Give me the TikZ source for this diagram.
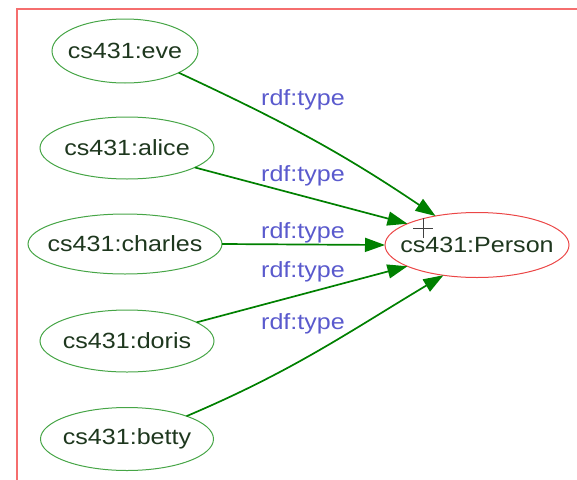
\documentclass[tikz,border=0pt]{standalone}
\usepackage{fontspec}
\setmainfont[FakeStretch=1.14]{Liberation Sans}
\usetikzlibrary{arrows.meta,shapes.geometric}
\definecolor{edgegreen}{RGB}{0,128,0}
\definecolor{nodegreen}{RGB}{70,165,70}
\definecolor{nodered}{RGB}{235,70,70}
\definecolor{framered}{RGB}{245,110,110}
\definecolor{txt}{RGB}{30,55,30}
\definecolor{lbl}{RGB}{90,90,205}
\newcommand{\centred}[1]{\makebox[0pt][c]{#1}}
\tikzset{
  res/.style={ellipse, draw=nodegreen, line width=1pt, text=txt,
    font=\fontsize{22}{24}\selectfont, inner sep=0pt, outer sep=0pt},
  cls/.style={res, draw=nodered},
  rel/.style={draw=edgegreen, line width=1.7pt,
    -{Triangle[length=20pt,width=14pt]}},
  lab/.style={text=lbl, font=\fontsize{22}{24}\selectfont, inner sep=0pt}
}
\begin{document}
\begin{tikzpicture}[x=1pt,y=-1pt]
  \useasboundingbox (0,0) rectangle (577,479);
  \begin{scope}
    \clip (0,0) rectangle (577,479);
    \draw[framered, line width=1.3pt] (17,9) rectangle (620,520);
  \end{scope}

  % subjects
  \node[res, minimum width=146pt, minimum height=64pt] (eve)     at (125,51)  {\centred{cs431:eve}};
  \node[res, minimum width=174pt, minimum height=62pt] (alice)   at (127,148) {\centred{cs431:alice}};
  \node[res, minimum width=194pt, minimum height=60pt] (charles) at (125,244) {\centred{cs431:charles}};
  \node[res, minimum width=174pt, minimum height=62pt] (doris)   at (127,341) {\centred{cs431:doris}};
  \node[res, minimum width=173pt, minimum height=63pt] (betty)   at (127,439) {\centred{cs431:betty}};
  % class
  \node[cls, minimum width=184pt, minimum height=65pt] (person)  at (477,245) {\centred{cs431:Person}};

  % rdf:type edges
  \draw[rel] (eve.-22)     to[out=-25, in=146] (person.145);
  \draw[rel] (alice.-16)   -- (person.163);
  \draw[rel] (charles.-0.6) -- (person.180);
  \draw[rel] (doris.15)    -- (person.197);
  \draw[rel] (betty.21)    to[out=23, in=211] (person.222);

  \node[lab] (l1) at (303,100) {rdf:type};
  \node[lab] (l2) at (303,176) {rdf:type};
  \node[lab] (l3) at (303,233) {rdf:type};
  \node[lab] (l4) at (303,272) {rdf:type};
  \node[lab] (l5) at (303,324) {rdf:type};

  % pointer crosshair
  \coordinate (cr) at (423,228);
  \draw[black!75, line width=0.9pt] ([xshift=-10pt]cr) -- ([xshift=10pt]cr)
    ([yshift=-10pt]cr) -- ([yshift=10pt]cr);
\end{tikzpicture}
\end{document}
